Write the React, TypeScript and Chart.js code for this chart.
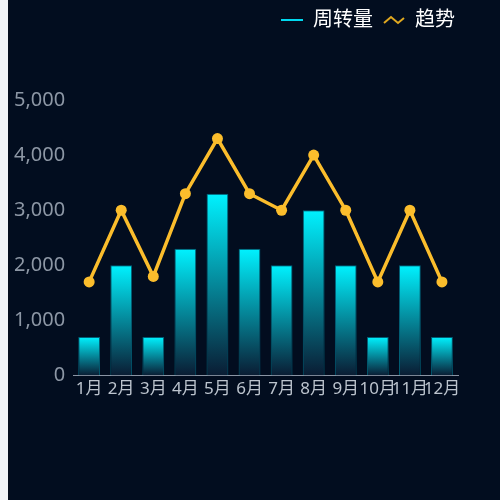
import { useEffect, useRef } from "react"
import { Chart, registerables } from "chart.js"

Chart.register(...registerables)

const months = ["1月", "2月", "3月", "4月", "5月", "6月", "7月", "8月", "9月", "10月", "11月", "12月"]
const turnover = [700, 2000, 700, 2300, 3300, 2300, 2000, 3000, 2000, 700, 2000, 700]
const trend = [1700, 3000, 1800, 3300, 4300, 3300, 3000, 4000, 3000, 1700, 3000, 1700]
const yMax = 5000
const yStep = 1000

const FONT = '"Noto Sans", "Noto Sans CJK SC", sans-serif'
const CYAN = "#00f2ff"
const GOLD = "#fbbd2c"

function lineIcon() {
  const c = document.createElement("canvas")
  c.width = 22
  c.height = 4
  const g = c.getContext("2d")!
  g.fillStyle = "#00d8f0"
  g.fillRect(0, 1, 22, 2)
  return c
}

function zigzagIcon() {
  const c = document.createElement("canvas")
  c.width = 22
  c.height = 10
  const g = c.getContext("2d")!
  g.strokeStyle = "#e0a820"
  g.lineWidth = 2
  g.beginPath()
  g.moveTo(1, 8)
  g.lineTo(8, 2)
  g.lineTo(15, 8)
  g.lineTo(21, 3)
  g.stroke()
  return c
}

// push the plot down below the legend, and nudge the legend right
const legendGap = {
  id: "legendGap",
  beforeInit(chart: any) {
    const orig = chart.legend.fit
    chart.legend.fit = function () {
      orig.bind(chart.legend)()
      this.height += 60
    }
  },
  afterLayout(chart: any) {
    chart.legend.right += 7
  },
}

export default function App() {
  const chartRef = useRef<HTMLCanvasElement>(null)
  const chartInstance = useRef<Chart | null>(null)

  useEffect(() => {
    if (!chartRef.current) return
    const ctx = chartRef.current.getContext("2d")
    if (!ctx) return
    if (chartInstance.current) chartInstance.current.destroy()

    const icons = [lineIcon(), zigzagIcon()]

    chartInstance.current = new Chart(ctx, {
      type: "bar",
      data: {
        labels: months,
        datasets: [
          {
            type: "line",
            label: "趋势",
            data: trend,
            borderColor: GOLD,
            backgroundColor: GOLD,
            borderWidth: 3.5,
            pointRadius: 5.5,
            pointBackgroundColor: GOLD,
            pointBorderWidth: 0,
            tension: 0,
            order: 0,
          } as any,
          {
            type: "bar",
            label: "周转量",
            data: turnover,
            order: 1,
            barPercentage: 0.85,
            categoryPercentage: 0.8,
            borderWidth: 1,
            borderColor: "rgba(0, 190, 220, 0.45)",
            backgroundColor: (c: any) => {
              const chart = c.chart
              if (!chart.chartArea || c.type !== "data") return CYAN
              const y = chart.scales.y
              const top = y.getPixelForValue(c.raw)
              const bottom = y.getPixelForValue(0)
              const g = chart.ctx.createLinearGradient(0, top, 0, bottom)
              g.addColorStop(0, CYAN)
              g.addColorStop(1, "#0a1c33")
              return g
            },
          },
        ],
      },
      options: {
        responsive: true,
        maintainAspectRatio: false,
        animation: false,
        layout: { padding: { top: 0, right: 42, bottom: 98, left: -2 } },
        scales: {
          x: {
            grid: { display: false, drawTicks: false },
            border: { color: "#8a94a3", width: 1 },
            ticks: { color: "#bcc4ce", font: { family: FONT, size: 17 }, padding: 3, maxRotation: 0, autoSkip: false },
          },
          y: {
            min: 0,
            max: yMax,
            grid: { display: false, drawTicks: false },
            border: { display: false },
            ticks: { stepSize: yStep, color: "#8d97a5", font: { family: FONT, size: 20 }, padding: 8 },
          },
        },
        plugins: {
          tooltip: { enabled: false },
          legend: {
            position: "top",
            align: "end",
            labels: {
              color: "#ffffff",
              font: { family: FONT, size: 20 },
              usePointStyle: true,
              pointStyleWidth: 22,
              padding: 10,
              generateLabels: () => [
                { text: "周转量", pointStyle: icons[0], fontColor: "#ffffff", datasetIndex: 1, lineWidth: 0 },
                { text: "趋势", pointStyle: icons[1], fontColor: "#ffffff", datasetIndex: 0, lineWidth: 0 },
              ] as any,
            },
          },
        },
      },
      plugins: [legendGap],
    })

    return () => {
      if (chartInstance.current) chartInstance.current.destroy()
    }
  }, [])

  return (
    <div style={{ position: "fixed", inset: 0, background: "#f0f3f8" }}>
      <div style={{ position: "absolute", left: 8, top: 0, width: 492, height: 500, background: "#020d1f" }}>
        <canvas ref={chartRef}></canvas>
      </div>
    </div>
  )
}
